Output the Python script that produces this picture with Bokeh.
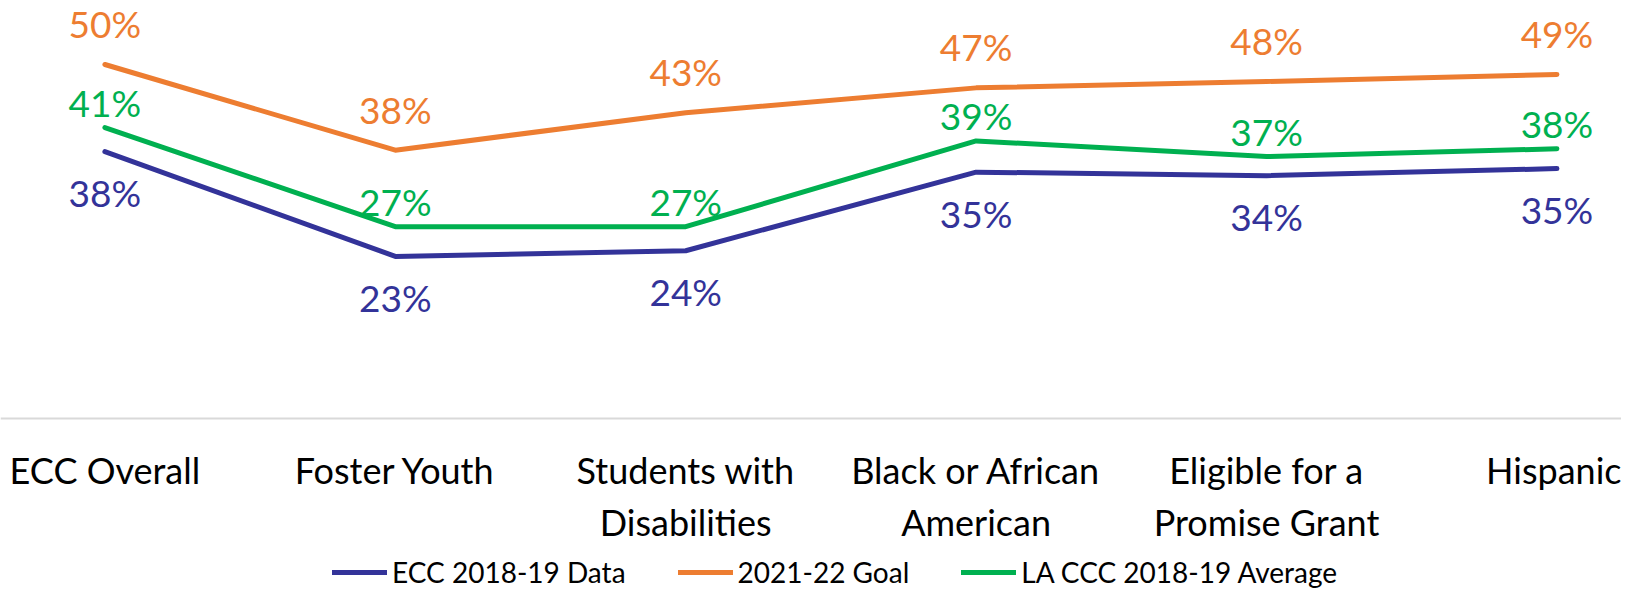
from bokeh.plotting import figure
from bokeh.models import ColumnDataSource, FixedTicker, Legend, LegendItem, Range1d
from bokeh.core.properties import value
from bokeh.embed import file_html
from bokeh.resources import INLINE

# ---- data (percent) ----
categories = ["ECC Overall", "Foster Youth", "Students with\nDisabilities",
              "Black or African\nAmerican", "Eligible for a\nPromise Grant", "Hispanic"]
ecc_2018_19 = [37.7, 22.9, 23.7, 34.8, 34.3, 35.3]
goal_2021_22 = [50.0, 37.9, 43.2, 46.7, 47.6, 48.6]
la_ccc_2018_19 = [41.1, 27.1, 27.1, 39.2, 37.0, 38.1]
series_names = ["ECC 2018-19 Data", "2021-22 Goal", "LA CCC 2018-19 Average"]

FONT = "Lato"
BLUE, ORANGE, GREEN = "#333399", "#ED7D31", "#00B050"

xs = list(range(len(categories)))

# frame fills the whole canvas; the category axis is pinned at y = 0
p = figure(width=1621, height=590,
           x_range=Range1d(-0.3595, 5.2224), y_range=Range1d(-24.29, 59.04),
           output_backend="svg", toolbar_location=None,
           min_border=0, outline_line_color=None)
p.yaxis.visible = False
p.xgrid.visible = False
p.ygrid.visible = False
p.background_fill_color = "white"
p.border_fill_color = "white"

ax = p.xaxis[0]
ax.fixed_location = 0
ax.ticker = FixedTicker(ticks=xs)
ax.major_label_overrides = {i: c for i, c in enumerate(categories)}
ax.major_tick_line_color = None
ax.major_tick_out = 0
ax.major_tick_in = 0
ax.minor_tick_line_color = None
ax.minor_tick_out = 0
ax.axis_line_color = "#d9d9d9"
ax.axis_line_width = 2
ax.major_label_text_font = FONT
ax.major_label_text_font_size = "36px"
ax.major_label_text_color = "#000000"
ax.major_label_standoff = 29

series = [
    (series_names[0], ecc_2018_19, BLUE, 41),
    (series_names[1], goal_2021_22, ORANGE, -41),
    (series_names[2], la_ccc_2018_19, GREEN, -25),
]

items = []
for name, vals, color, dy in series:
    src = ColumnDataSource(dict(x=xs, y=vals, label=[f"{round(v)}%" for v in vals]))
    r = p.line("x", "y", source=src, line_color=color, line_width=5,
               line_cap="round", line_join="round")
    p.text("x", "y", text="label", source=src, text_color=color,
           text_font=value(FONT), text_font_size="37px",
           text_align="center", text_baseline="middle", y_offset=dy)
    items.append(LegendItem(label=name, renderers=[r]))

legend = Legend(items=items, orientation="horizontal", location=(332, 1),
                glyph_width=55, glyph_height=20, label_height=20,
                label_standoff=5, spacing=52,
                padding=0, margin=0, border_line_color=None,
                background_fill_alpha=0,
                label_text_font=FONT, label_text_font_size="28px",
                label_text_color="#000000", label_text_baseline="middle")
p.add_layout(legend, "center")

open("out.html", "w").write(file_html(p, INLINE))
